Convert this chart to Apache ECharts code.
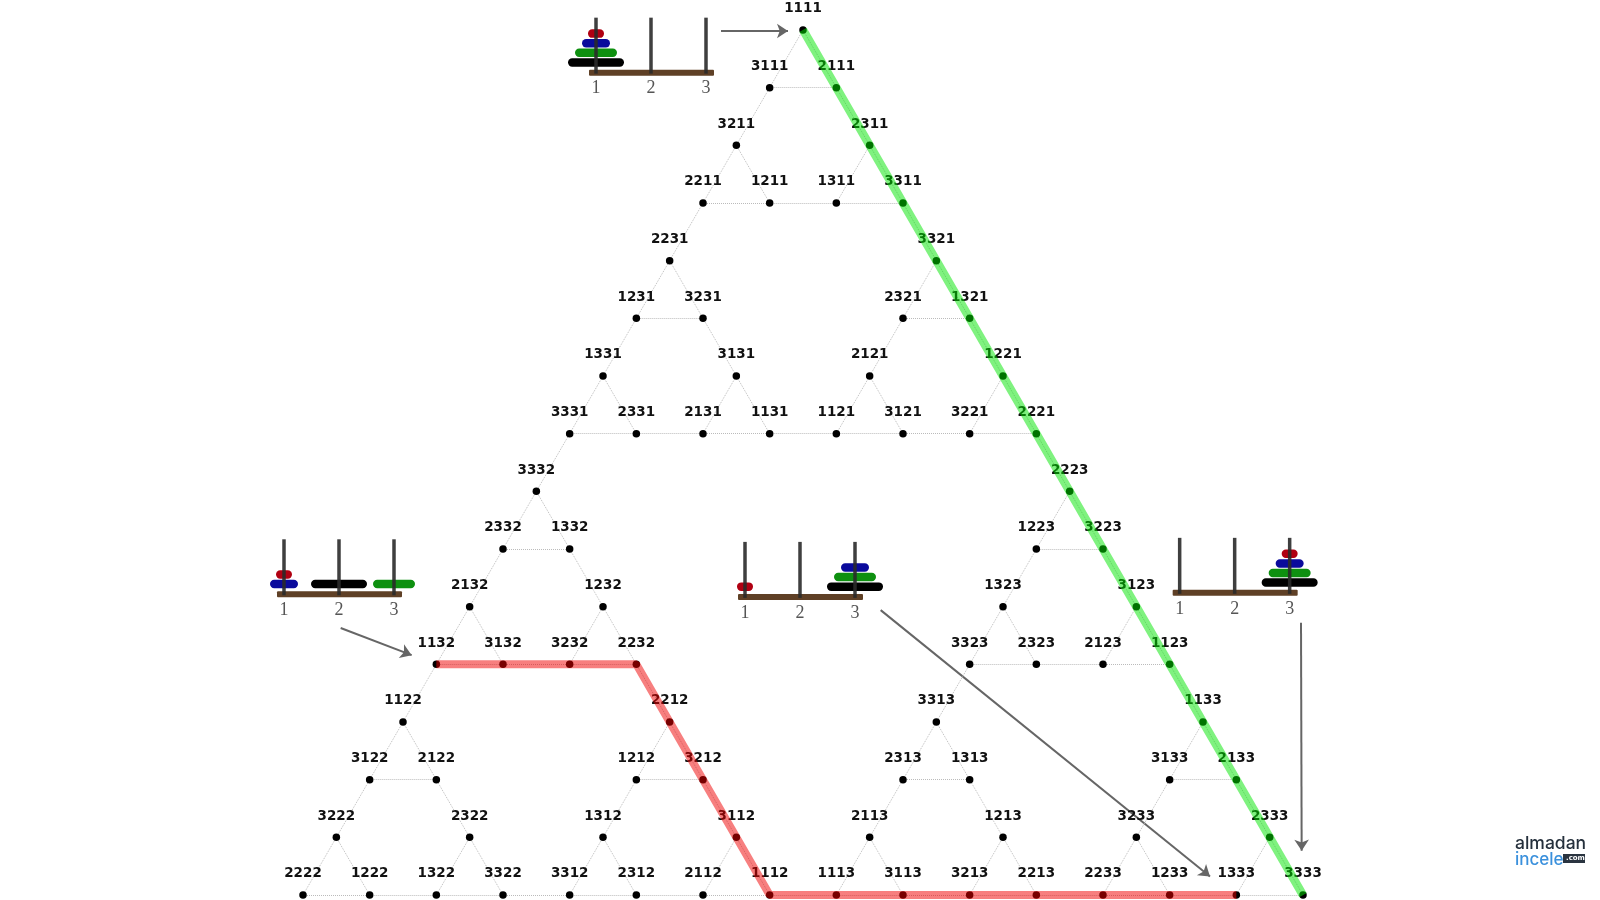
<!DOCTYPE html>
<html lang="tr">
<head>
    <meta charset="UTF-8">
    <title>Hanoi state graph</title>
    <script src="https://cdn.jsdelivr.net/npm/echarts@6/dist/echarts.min.js"></script>
    <style>
        body{ margin: 0; background: #fff; }
        #main{ width: 1600px; height: 900px; filter: blur(0.7px); }
    </style>
</head>
<body>
<div id="main"></div>
<script>
    // states per row of the triangle, top to bottom
    var stateRows = [
        ['1111'],
        ['3111','2111'],
        ['3211','2311'],
        ['2211','1211','1311','3311'],
        ['2231','3321'],
        ['1231','3231','2321','1321'],
        ['1331','3131','2121','1221'],
        ['3331','2331','2131','1131','1121','3121','3221','2221'],
        ['3332','2223'],
        ['2332','1332','1223','3223'],
        ['2132','1232','1323','3123'],
        ['1132','3132','3232','2232','3323','2323','2123','1123'],
        ['1122','2212','3313','1133'],
        ['3122','2122','1212','3212','2313','1313','3133','2133'],
        ['3222','2322','1312','3112','2113','1213','3233','2333'],
        ['2222','1222','1322','3322','3312','2312','2112','1112','1113','3113','3213','2213','2233','1233','1333','3333']
    ];
    // column of each state on the triangular lattice
    var stateCols = [
        [0],
        [-1,1],
        [-2,2],
        [-3,-1,1,3],
        [-4,4],
        [-5,-3,3,5],
        [-6,-2,2,6],
        [-7,-5,-3,-1,1,3,5,7],
        [-8,8],
        [-9,-7,7,9],
        [-10,-6,6,10],
        [-11,-9,-7,-5,5,7,9,11],
        [-12,-4,4,12],
        [-13,-11,-5,-3,3,5,11,13],
        [-14,-10,-6,-2,2,6,10,14],
        [-15,-13,-11,-9,-7,-5,-3,-1,1,3,5,7,9,11,13,15]
    ];
    var greenPath = ['1111','2111','2311','3311','3321','1321','1221','2221','2223','3223','3123','1123','1133','2133','2333','3333'];
    var redPath = ['1132','3132','3232','2232','2212','3212','3112','1112','1113','3113','3213','2213','2233','1233','1333'];
    var towerStates = ['1111','1132','1333','3333'];
    var pegNames = ['1','2','3'];

    // placement on the lattice
    var towerAnchors = [[-6.21,0.74],[-15.57,9.785],[-1.74,9.83],[11.30,9.76]];
    var arrows = [
        [[-2.46,0.017],[-0.45,0.017]],
        [[-13.87,10.37],[-11.74,10.84]],
        [[2.33,10.06],[12.21,14.68]],
        [[14.94,10.28],[14.96,14.23]]
    ];

    var diskColors = ['#b00012','#0a0a9c','#0e9010','#000000'];
    var diskWidths = [16,28,42,56];

    var pos = {};
    var nodes = [];
    stateRows.forEach(function(row, r){
        row.forEach(function(s, i){
            pos[s] = [stateCols[r][i], r];
            nodes.push({name: s, value: pos[s]});
        });
    });

    // a disk can move if no smaller disk sits on its peg or on the peg it goes to
    function isMove(a, b){
        var d = -1;
        for(var i = 0; i < 4; i++){
            if(a[i] != b[i]){
                if(d >= 0) return false;
                d = i;
            }
        }
        if(d < 0) return false;
        return a.slice(0, d).indexOf(a[d]) < 0 && a.slice(0, d).indexOf(b[d]) < 0;
    }
    var links = [];
    nodes.forEach(function(n, i){
        nodes.slice(i + 1).forEach(function(m){
            if(isMove(n.name, m.name)) links.push({source: n.name, target: m.name});
        });
    });

    function renderTower(params, api){
        var p = api.coord([api.value(0), api.value(1)]);
        var state = towerStates[params.dataIndex];
        var kids = [];
        var stack = [0,0,0];
        kids.push({type:'rect', shape:{x:p[0]-7, y:p[1]-3, width:125, height:6, r:1},
            style:{fill:'#5f4026'}});
        for(var d = 3; d >= 0; d--){
            var peg = +state[d] - 1;
            kids.push({type:'rect',
                shape:{x:p[0]+peg*55-diskWidths[d]/2, y:p[1]-14.5-stack[peg]*9.6, width:diskWidths[d], height:8.5, r:4.2},
                style:{fill:diskColors[d]}});
            stack[peg]++;
        }
        pegNames.forEach(function(name, i){
            kids.push({type:'rect', shape:{x:p[0]+i*55-1.75, y:p[1]-55, width:3.5, height:56},
                style:{fill:'#2a2a2a', opacity:0.9}});
            kids.push({type:'text', style:{text:name, x:p[0]+i*55, y:p[1]+16, align:'center', verticalAlign:'middle',
                font:'18px "Liberation Serif"', fill:'#555'}});
        });
        return {type:'group', children:kids};
    }

    var myChart = echarts.init(document.getElementById('main'));
    myChart.setOption({
        animation: false,
        grid: {left:0, right:0, top:0, bottom:0},
        xAxis: {type:'value', min:-24.09, max:23.91, show:false},
        yAxis: {type:'value', min:-0.52, max:15.086, inverse:true, show:false},
        series: [
            {
                type: 'custom', renderItem: renderTower, clip: false, silent: true,
                data: towerAnchors, z: 1
            },
            {
                type: 'lines', coordinateSystem: 'cartesian2d', silent: true, z: 2,
                symbol: ['none','arrow'], symbolSize: 11,
                lineStyle: {color:'#666', width:2, opacity:1},
                data: arrows.map(function(a){ return {coords:a}; })
            },
            {
                type: 'graph', coordinateSystem: 'cartesian2d', layout: 'none', silent: true, z: 3,
                symbolSize: 7.5, data: nodes, links: links,
                itemStyle: {color:'#000'},
                lineStyle: {color:'#bbb', width:1, type:'dotted', opacity:1},
                label: {show:true, position:'top', distance:10.5, formatter:'{b}',
                    fontFamily:'DejaVu Sans', fontWeight:'bold', fontSize:13.5, color:'#111'}
            },
            {
                type: 'line', silent: true, z: 4, symbol: 'none',
                data: greenPath.map(function(s){ return pos[s]; }),
                lineStyle: {color:'#00e600', width:8.5, opacity:0.5}
            },
            {
                type: 'line', silent: true, z: 4, symbol: 'none',
                data: redPath.map(function(s){ return pos[s]; }),
                lineStyle: {color:'#f00000', width:8, opacity:0.5}
            }
        ],
        graphic: [
            {type:'text', left:1515, top:835, z:10,
                style:{text:'almadan', font:'500 17.5px Inter', fill:'#25303c'}},
            {type:'text', left:1515, top:851, z:10,
                style:{text:'incele', font:'500 17px Inter', fill:'#3a90dc'}},
            {type:'rect', left:1563, top:854, z:10, shape:{width:22, height:9}, style:{fill:'#2a3440'}},
            {type:'text', left:1566, top:855, z:11,
                style:{text:'.com', font:'bold 7px "DejaVu Sans"', fill:'#fff'}}
        ]
    });
</script>
</body>
</html>
